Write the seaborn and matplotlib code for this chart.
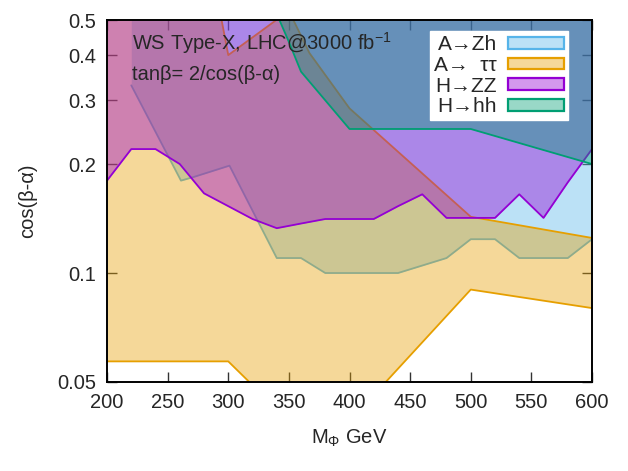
import matplotlib
matplotlib.use("Agg")
import matplotlib.pyplot as plt
import seaborn as sns
from matplotlib.patches import Patch
from matplotlib.ticker import FixedLocator, FixedFormatter, NullLocator

# ---------------- data ----------------
# A -> Zh : excluded above this boundary
zh_mass = [220, 261, 271, 301, 340, 360, 380, 440, 480, 500, 520, 540, 580, 600]
zh_low = [0.33, 0.18, 0.184, 0.198, 0.11, 0.11, 0.10, 0.10, 0.11, 0.124, 0.124, 0.11, 0.11, 0.124]

# A -> tautau : band between lower and upper boundary
tt_low_mass = [200, 300, 320, 420, 500, 600]
tt_low = [0.057, 0.057, 0.049, 0.046, 0.090, 0.080]
tt_up_mass = [200, 290, 300, 350, 367, 400, 500, 600]
tt_up = [0.6, 0.6, 0.40, 0.53, 0.405, 0.285, 0.143, 0.125]

# H -> ZZ : excluded above this boundary
zz_mass = [200, 220, 240, 260, 280, 300, 320, 340, 360, 380, 400, 420,
           440, 460, 480, 500, 520, 540, 560, 580, 600]
zz_low = [0.18, 0.22, 0.22, 0.20, 0.166, 0.153, 0.141, 0.133, 0.137, 0.141, 0.141, 0.141,
          0.153, 0.165, 0.142, 0.142, 0.142, 0.165, 0.142, 0.178, 0.22]

# H -> hh : excluded above this boundary
hh_mass = [340, 350, 360, 380, 400, 500, 600]
hh_low = [0.52, 0.435, 0.36, 0.30, 0.25, 0.25, 0.20]

labels = ["A\u2192Zh", "A\u2192  \u03c4\u03c4", "H\u2192ZZ", "H\u2192hh"]
colors = ["#56b4e9", "#e69f00", "#9400d3", "#009e73"]
y_ticks = [0.05, 0.1, 0.2, 0.3, 0.4, 0.5]
y_tick_labels = ["0.05", "0.1", "0.2", "0.3", "0.4", "0.5"]
x_ticks = [200, 250, 300, 350, 400, 450, 500, 550, 600]
TOP = 1.0
ALPHA = 0.4

# ---------------- style ----------------
sns.set_theme(style="ticks")
plt.rcParams["font.family"] = ["Liberation Sans", "DejaVu Sans"]
plt.rcParams["mathtext.fontset"] = "custom"
plt.rcParams["mathtext.rm"] = "Liberation Sans"
plt.rcParams["mathtext.it"] = "Liberation Sans:italic"
plt.rcParams["mathtext.bf"] = "Liberation Sans:bold"

FS = 14.5
fig = plt.figure(figsize=(6.28, 4.71), dpi=100)
ax = fig.add_axes([0.1704, 0.189, 0.7723, 0.7685])
ax.set_yscale("log")

LW = 1.3
# A -> Zh
ax.fill_between(zh_mass, zh_low, TOP, facecolor=colors[0], alpha=ALPHA, lw=0, zorder=1)
sns.lineplot(x=zh_mass, y=zh_low, color=colors[0], lw=LW, sort=False, estimator=None,
             ax=ax, zorder=1.5, legend=False)
# A -> tautau
poly_x = tt_low_mass + tt_up_mass[::-1]
poly_y = tt_low + tt_up[::-1]
ax.fill(poly_x, poly_y, facecolor=colors[1], alpha=ALPHA, lw=0, zorder=2)
sns.lineplot(x=tt_low_mass, y=tt_low, color=colors[1], lw=LW, sort=False, estimator=None,
             ax=ax, zorder=2.5, legend=False)
sns.lineplot(x=tt_up_mass, y=tt_up, color=colors[1], lw=LW, sort=False, estimator=None,
             ax=ax, zorder=2.5, legend=False)
# H -> ZZ
ax.fill_between(zz_mass, zz_low, TOP, facecolor=colors[2], alpha=ALPHA, lw=0, zorder=3)
sns.lineplot(x=zz_mass, y=zz_low, color=colors[2], lw=LW, sort=False, estimator=None,
             ax=ax, zorder=3.5, legend=False)
# H -> hh
ax.fill_between(hh_mass, hh_low, TOP, facecolor=colors[3], alpha=ALPHA, lw=0, zorder=4)
sns.lineplot(x=hh_mass, y=hh_low, color=colors[3], lw=LW, sort=False, estimator=None,
             ax=ax, zorder=4.5, legend=False)

ax.set_xlim(200, 600)
ax.set_ylim(0.05, 0.5)
ax.xaxis.set_major_locator(FixedLocator(x_ticks))
ax.yaxis.set_major_locator(FixedLocator(y_ticks))
ax.yaxis.set_major_formatter(FixedFormatter(y_tick_labels))
ax.yaxis.set_minor_locator(NullLocator())
ax.xaxis.set_minor_locator(NullLocator())
ax.tick_params(direction="in", top=True, right=True, length=7, width=1.0,
               labelsize=FS, color="#333333", pad=8)
for s in ax.spines.values():
    s.set_linewidth(1.4)
    s.set_color("black")
    s.set_zorder(10)

ax.set_xlabel("M$_{\u03a6}$ GeV", fontsize=FS, labelpad=11)
ax.set_ylabel("cos(\u03b2-\u03b1)", fontsize=FS, labelpad=14)

ax.text(0.052, 0.935, "WS Type-X, LHC@3000 fb$^{-1}$", transform=ax.transAxes,
        fontsize=FS, va="center", ha="left", zorder=12)
ax.text(0.052, 0.85, "tan\u03b2= 2/cos(\u03b2-\u03b1)", transform=ax.transAxes,
        fontsize=FS, va="center", ha="left", zorder=12)

handles = [Patch(facecolor=(c, ALPHA), edgecolor=c, lw=1.6) for c in colors]
leg = ax.legend(handles, labels, loc="upper right", bbox_to_anchor=(0.9505, 0.9696),
                borderaxespad=0, markerfirst=False, fontsize=15, labelspacing=0.08,
                handlelength=2.7, handleheight=0.5, handletextpad=0.5, borderpad=0.2,
                frameon=True, fancybox=False, framealpha=1, edgecolor="white",
                facecolor="white")
leg.set_zorder(12)

fig.savefig("out.png", dpi=100)
